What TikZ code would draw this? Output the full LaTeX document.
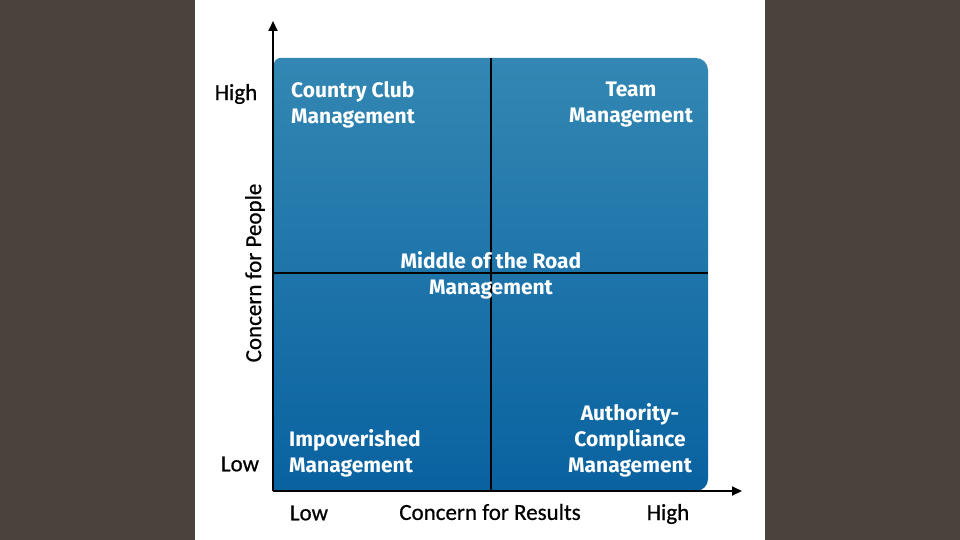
\documentclass[tikz,border=0pt]{standalone}
\usepackage{fontspec}
\setmainfont{Carlito}
\newfontfamily\axfont{Carlito}[FakeBold=0.6]
\newfontfamily\boxfont{Fira Sans}
\usetikzlibrary{arrows.meta}
\definecolor{bgdark}{HTML}{4A423D}
\definecolor{bluetop}{HTML}{3387B3}
\definecolor{bluebot}{HTML}{0962A0}
\tikzset{
  axis/.style={line width=2pt, -{Triangle[length=10pt,width=9pt]}},
  divider/.style={line width=2.2pt, black},
  axlabel/.style={font=\axfont\fontsize{23}{23}\selectfont, text=black, inner sep=0pt},
  quad/.style={font=\boxfont\bfseries\fontsize{21}{26}\selectfont, text=white, inner sep=0pt},
}
\begin{document}
\begin{tikzpicture}[x=1pt,y=-1pt]
\useasboundingbox (0,0) rectangle (960,540);
\fill[bgdark] (0,0) rectangle (960,540);
\fill[white] (195,0) rectangle (765,540);
% blue panel
\shade[top color=bluetop, bottom color=bluebot]
  (274,491) -- (274,64) .. controls (274,60.7) and (277.3,58) .. (280,58)
  -- (696,58) .. controls (702.6,58) and (708,63.4) .. (708,70)
  -- (708,479) .. controls (708,485.6) and (702.6,491) .. (696,491) -- cycle;
% dividers
\coordinate (vt) at (491,58);
\coordinate (vb) at (491,490);
\coordinate (hl) at (274,273);
\coordinate (hr) at (708,273);
\draw[divider] (vt) -- (vb);
\draw[divider] (hl) -- (hr);
% axes
\coordinate (o) at (273,491);
\coordinate (ytip) at (273,21);
\coordinate (xtip) at (742,491);
\draw[axis] (o) -- (ytip);
\draw[axis] (o) -- (xtip);
% axis labels
\node[axlabel] (yhigh) at (236,94) {High};
\node[axlabel] (ylow) at (240,464) {Low};
\node[axlabel, rotate=90] (ylab) at (255,273) {Concern for People};
\node[axlabel] (xlow) at (309,513) {Low};
\node[axlabel] (xlab) at (490,512) {Concern for Results};
\node[axlabel] (xhigh) at (668,514) {High};
% quadrant labels
\node[quad, align=left, anchor=west] (cc) at (291,105) {Country Club\\Management};
\node[quad, align=center] (tm) at (631,105) {Team\\Management};
\node[quad, align=center] (mr) at (491,275) {Middle of the Road\\Management};
\node[quad, align=left, anchor=west] (im) at (289,453) {Impoverished\\Management};
\node[quad, align=center] (ac) at (630,440) {Authority-\\Compliance\\Management};
\end{tikzpicture}
\end{document}
